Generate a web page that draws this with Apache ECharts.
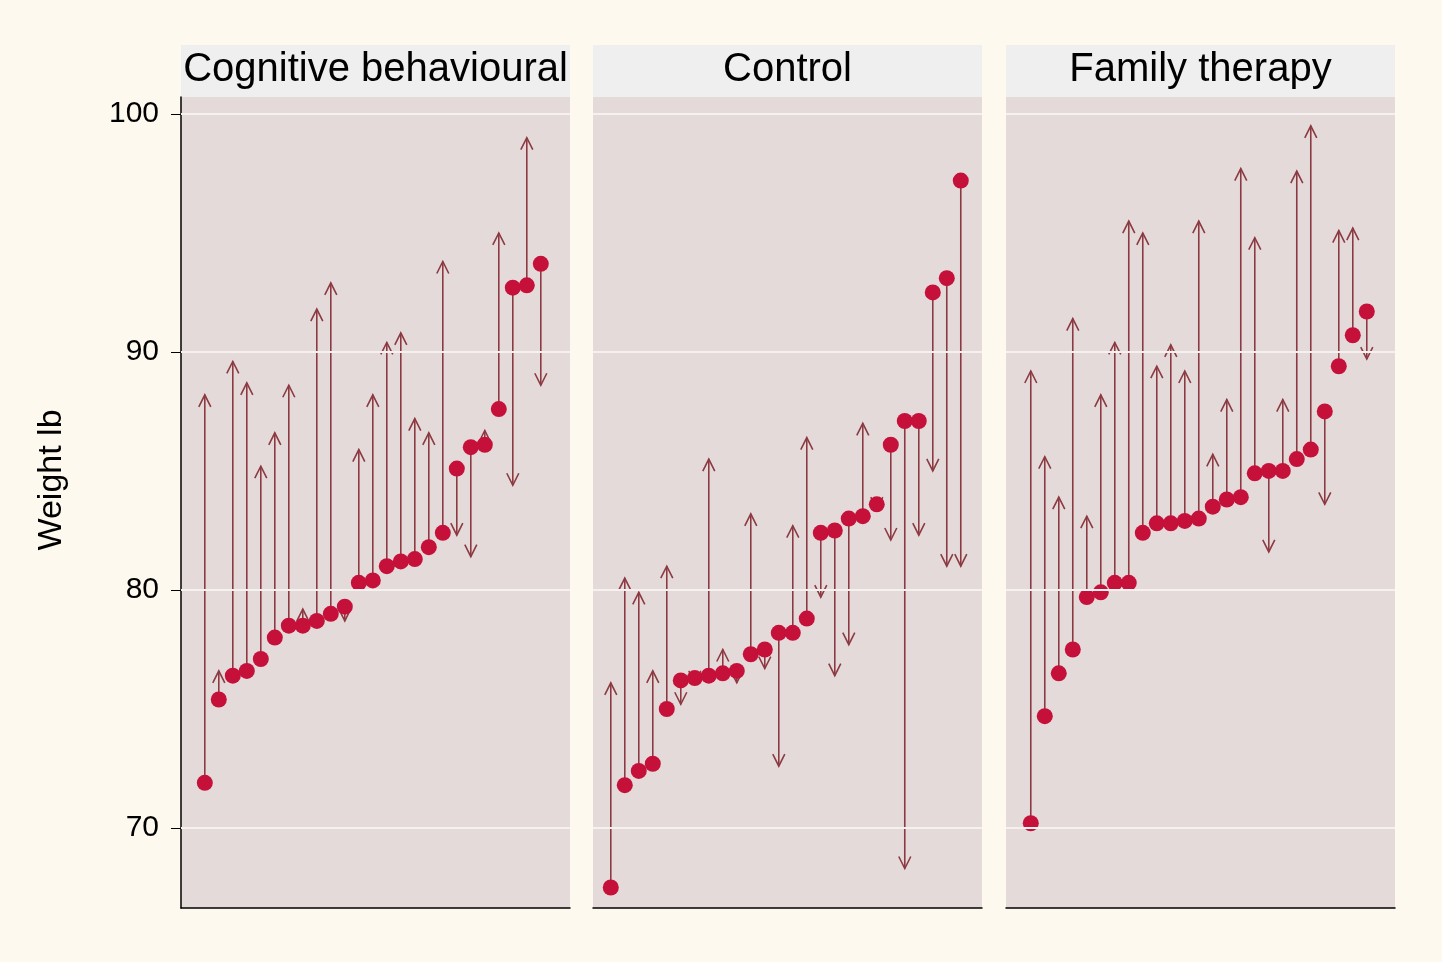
<!DOCTYPE html>
<html>
<head>
<meta charset="utf-8">
<script src="https://cdn.jsdelivr.net/npm/echarts@6/dist/echarts.min.js"></script>
<style>
    html, body { margin: 0; padding: 0; background: #fdf9ee; }
    #chart { width: 1442px; height: 962px; }
</style>
</head>
<body>
<div id="chart"></div>
<script>
    var panelNames = ['Cognitive behavioural', 'Control', 'Family therapy'];

    // weight before and after, sorted by weight before
    var cbtBefore = [71.9, 75.4, 76.4, 76.6, 77.1, 78.0, 78.5, 78.5, 78.7, 79.0, 79.3, 80.3, 80.4, 81.0, 81.2, 81.3, 81.8, 82.4, 85.1, 86.0, 86.1, 87.6, 92.7, 92.8, 93.7];
    var cbtAfter = [88.2, 76.6, 89.6, 88.7, 85.2, 86.6, 88.6, 79.2, 91.8, 92.9, 78.7, 85.9, 88.2, 90.4, 90.8, 87.2, 86.6, 93.8, 82.3, 81.4, 86.7, 95.0, 84.4, 99.0, 88.6];

    var contBefore = [67.5, 71.8, 72.4, 72.7, 75.0, 76.2, 76.3, 76.4, 76.5, 76.6, 77.3, 77.5, 78.2, 78.2, 78.8, 82.4, 82.5, 83.0, 83.1, 83.6, 86.1, 87.1, 87.1, 92.5, 93.1, 97.2];
    var contAfter = [76.1, 80.5, 79.9, 76.6, 81.0, 75.2, 76.1, 85.5, 77.5, 76.1, 83.2, 76.7, 72.6, 82.7, 86.4, 79.7, 76.4, 77.7, 87.0, 83.4, 82.1, 68.3, 82.3, 85.0, 81.0, 81.0];

    var ftBefore = [70.2, 74.7, 76.5, 77.5, 79.7, 79.9, 80.3, 80.3, 82.4, 82.8, 82.8, 82.9, 83.0, 83.5, 83.8, 83.9, 84.9, 85.0, 85.0, 85.5, 85.9, 87.5, 89.4, 90.7, 91.7];
    var ftAfter = [89.2, 85.6, 83.9, 91.4, 83.1, 88.2, 90.4, 95.5, 95.0, 89.4, 90.3, 89.2, 95.5, 85.7, 88.0, 97.7, 94.8, 81.6, 88.0, 97.6, 99.5, 83.6, 95.1, 95.2, 89.7];

    var yTicks = [70, 80, 90, 100];

    var groups = [
        { before: cbtBefore, after: cbtAfter, left: 181, xMin: -0.7 },
        { before: contBefore, after: contAfter, left: 593, xMin: -0.27 },
        { before: ftBefore, after: ftAfter, left: 1006, xMin: -0.77 }
    ];

    var panelWidth = 389;
    var yMin = 66.64, yMax = 100.71;
    var arrowColor = '#8c3a42';
    var dotColor = '#c5103a';

    var chart = echarts.init(document.getElementById('chart'));

    var grids = [], xAxes = [], yAxes = [], series = [], graphics = [];

    groups.forEach(function (g, i) {
        grids.push({ left: g.left, top: 97, width: panelWidth, height: 811, show: true, backgroundColor: '#e5dada', borderWidth: 0 });
        xAxes.push({
            gridIndex: i, type: 'value', min: g.xMin, max: g.xMin + panelWidth / 14,
            axisLine: { show: true, onZero: false, lineStyle: { color: '#000', width: 1.5 } },
            axisTick: { show: false }, axisLabel: { show: false }, splitLine: { show: false }
        });
        yAxes.push({
            gridIndex: i, type: 'value', min: yMin, max: yMax,
            axisLine: { show: i === 0, onZero: false, lineStyle: { color: '#000', width: 1.5 } },
            axisTick: { show: i === 0, customValues: yTicks, length: 10, lineStyle: { color: '#000' } },
            axisLabel: { show: i === 0, customValues: yTicks, fontSize: 30, color: '#000', fontFamily: 'Liberation Sans, Arial', margin: 22 },
            splitLine: { show: false }
        });

        var pts = g.before.map(function (v, k) { return [k + 1, v, g.after[k]]; });

        // gridlines
        series.push({
            type: 'line', xAxisIndex: i, yAxisIndex: i, data: [], silent: true,
            markLine: {
                symbol: 'none', silent: true, label: { show: false },
                lineStyle: { color: '#f6f1ee', width: 2, type: 'solid' },
                data: yTicks.map(function (t) { return { yAxis: t }; })
            }
        });

        series.push({
            type: 'custom', xAxisIndex: i, yAxisIndex: i, data: pts, z: 3,
            renderItem: function (params, api) {
                var p0 = api.coord([api.value(0), api.value(1)]);
                var p1 = api.coord([api.value(0), api.value(2)]);
                var dir = p1[1] < p0[1] ? 1 : -1;
                var style = { stroke: arrowColor, lineWidth: 1.6, fill: null };
                return {
                    type: 'group',
                    children: [
                        { type: 'line', shape: { x1: p0[0], y1: p0[1], x2: p1[0], y2: p1[1] }, style: style },
                        { type: 'polyline', shape: { points: [[p1[0] - 6, p1[1] + dir * 12], [p1[0], p1[1]], [p1[0] + 6, p1[1] + dir * 12]] }, style: style }
                    ]
                };
            }
        });

        series.push({
            type: 'scatter', xAxisIndex: i, yAxisIndex: i, z: 4,
            data: pts.map(function (p) { return [p[0], p[1]]; }),
            symbolSize: 16, itemStyle: { color: dotColor, opacity: 1 }
        });

        graphics.push({
            type: 'rect', left: g.left, top: 45,
            shape: { width: panelWidth, height: 52 }, style: { fill: '#f0eff0' }
        });
        graphics.push({
            type: 'text', x: g.left + panelWidth / 2, y: 70,
            style: { text: panelNames[i], fontSize: 40, fill: '#000', fontFamily: 'Liberation Sans, Arial', align: 'center', verticalAlign: 'middle' }
        });
    });

    graphics.push({
        type: 'text', x: 52, y: 480, rotation: Math.PI / 2,
        style: { text: 'Weight lb', fontSize: 34, fill: '#000', fontFamily: 'Liberation Sans, Arial', align: 'center', verticalAlign: 'middle' }
    });

    chart.setOption({
        backgroundColor: '#fdf9ee',
        animation: false,
        grid: grids,
        xAxis: xAxes,
        yAxis: yAxes,
        series: series,
        graphic: graphics
    });
</script>
</body>
</html>
